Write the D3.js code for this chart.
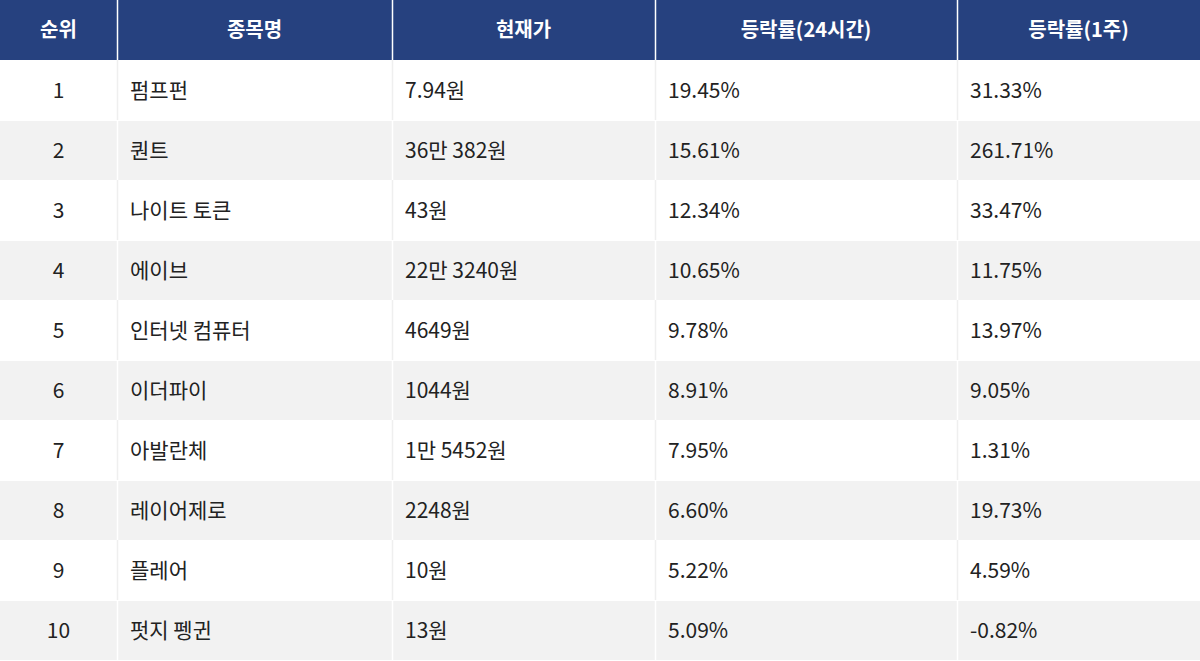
<!DOCTYPE html>
<html><head><meta charset="utf-8">
<script src="https://cdn.jsdelivr.net/npm/d3@7"></script>
<style>body{margin:0;background:#fff}</style></head>
<body><svg id="c" width="1200" height="661"></svg>
<script>
const headers = ["순위","종목명","현재가","등락률(24시간)","등락률(1주)"];
const ranks = ["1","2","3","4","5","6","7","8","9","10"];
const names = ["펌프펀","퀀트","나이트 토큰","에이브","인터넷 컴퓨터","이더파이","아발란체","레이어제로","플레어","펏지 펭귄"];
const prices = ["7.94원","36만 382원","43원","22만 3240원","4649원","1044원","1만 5452원","2248원","10원","13원"];
const change24h = ["19.45%","15.61%","12.34%","10.65%","9.78%","8.91%","7.95%","6.60%","5.22%","5.09%"];
const change1w = ["31.33%","261.71%","33.47%","11.75%","13.97%","9.05%","1.31%","19.73%","4.59%","-0.82%"];

const colEdges = [0,117,392,655,957,1200];
const rowH = 60, headH = 60;
const svg = d3.select("#c");
const font = "'Noto Sans CJK KR','Noto Sans',sans-serif";
const rows = ranks.map((r,i)=>[r,names[i],prices[i],change24h[i],change1w[i]]);
const y = d3.scaleBand().domain(d3.range(rows.length)).range([headH, headH+rowH*rows.length]).padding(0);

// header
svg.append("rect").attr("x",0).attr("y",0).attr("width",1200).attr("height",headH).attr("fill","#26417f");
headers.forEach((h,j)=>{
  svg.append("text").attr("x",(colEdges[j]+colEdges[j+1])/2).attr("y",headH/2+7)
    .attr("text-anchor","middle").attr("fill","#fff").attr("font-family",font)
    .attr("font-weight","bold").attr("font-size",20).text(h);
  if(j>0) svg.append("line").attr("x1",colEdges[j]+0.5).attr("x2",colEdges[j]+0.5).attr("y1",0).attr("y2",headH).attr("stroke","#fff").attr("stroke-width",1.5);
});

const g = svg.selectAll("g.row").data(rows).join("g").attr("class","row").attr("transform",(d,i)=>`translate(0,${y(i)})`);
g.append("rect").attr("width",1200).attr("height",rowH-1).attr("y",1).attr("fill",(d,i)=>i%2?"#f2f2f2":"#fff");
g.each(function(d,i){
  const s=d3.select(this);
  for(let j=1;j<5;j++) s.append("line").attr("x1",colEdges[j]+0.5).attr("x2",colEdges[j]+0.5).attr("y1",0).attr("y2",rowH)
    .attr("stroke",i%2?"#fff":"#efefef").attr("stroke-width",1.5);
  d.forEach((t,j)=>{
    s.append("text").attr("x", j===0?(colEdges[0]+colEdges[1])/2:colEdges[j]+13).attr("y",rowH/2+8)
      .attr("text-anchor", j===0?"middle":"start").attr("fill","#222").attr("font-family",font)
      .attr("font-size",21).text(t);
  });
});
</script></body></html>
